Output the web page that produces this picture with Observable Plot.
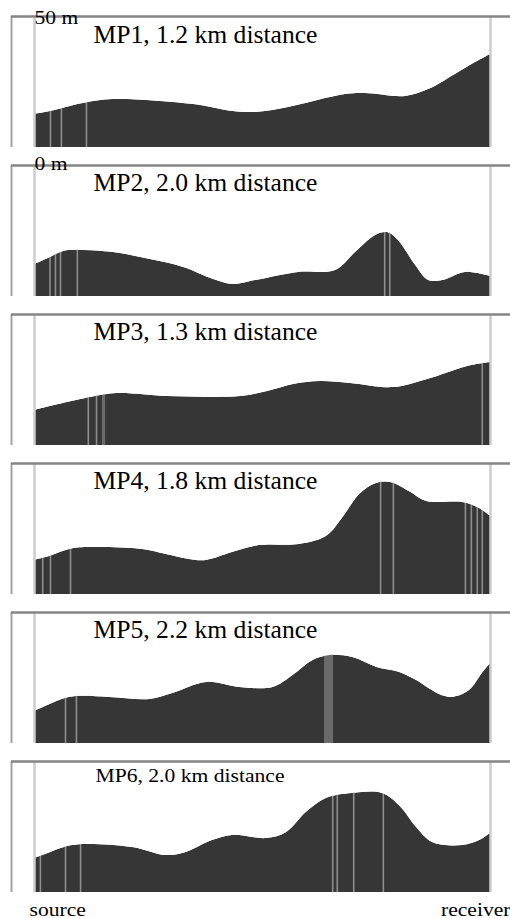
<!DOCTYPE html>
<html>
<head>
<meta charset="utf-8">
<script src="https://cdn.jsdelivr.net/npm/d3@7"></script>
<script src="https://cdn.jsdelivr.net/npm/@observablehq/plot@0.6"></script>
<style>
html, body { margin: 0; padding: 0; background: #fff; }
#chart { width: 510px; height: 918px; }
</style>
</head>
<body>
<div id="chart"></div>
<script>
// Panels and their titles
const panels = ["MP1", "MP2", "MP3", "MP4", "MP5", "MP6"];
const titles = [
  "MP1, 1.2 km distance",
  "MP2, 2.0 km distance",
  "MP3, 1.3 km distance",
  "MP4, 1.8 km distance",
  "MP5, 2.2 km distance",
  "MP6, 2.0 km distance"
];
const yDomain = [0, 50];                // metres
const axisLabels = ["50 m", "0 m"];
const endLabels = ["source", "receiver"];

// Terrain profiles: distance along path (% of path) and elevation (m)
const mp1Dist = [0, 3.5, 10.7, 17.3, 34.9, 43.6, 48.5, 55.7, 68.2, 72.6, 81.4, 86.4, 92.3, 96.7, 100];
const mp1Elev = [12.6, 13.7, 16.8, 18.3, 16.4, 13.7, 13.4, 15.3, 20.2, 20.6, 19.5, 22.1, 27.9, 32.4, 35.5];

const mp2Dist = [0, 3.5, 6.4, 10.1, 17.3, 25.4, 32.7, 39.3, 43.6, 48.5, 57.9, 66.0, 70.4, 74.8, 77.4, 79.8, 83.6, 86.4, 89.5, 94.5, 100];
const mp2Elev = [12.2, 14.9, 17.2, 17.6, 16.8, 14.1, 11.1, 6.5, 4.6, 6.1, 9.2, 9.9, 16.8, 23.3, 24.4, 21.4, 11.8, 6.1, 6.1, 9.2, 7.6];

const mp3Dist = [0, 12.3, 18.2, 29.2, 45.2, 51.1, 56.8, 62.7, 69.3, 78.7, 86.2, 95.0, 100];
const mp3Elev = [13.4, 18.3, 19.8, 18.7, 18.7, 20.6, 23.3, 24.4, 23.7, 22.1, 25.2, 30.2, 31.7];

const mp4Dist = [0, 3.3, 7.7, 11.6, 23.7, 28.9, 34.0, 37.7, 43.4, 49.3, 58.1, 64.0, 67.5, 71.3, 75.0, 78.3, 82.2, 86.0, 93.9, 97.6, 100];
const mp4Elev = [13.0, 14.5, 17.2, 17.9, 17.2, 15.3, 13.4, 13.0, 16.0, 18.7, 19.1, 22.1, 29.0, 38.2, 42.4, 42.7, 39.3, 35.5, 35.1, 32.8, 29.8];

const mp5Dist = [0, 6.1, 9.2, 16.5, 25.3, 30.3, 37.8, 45.0, 52.3, 56.7, 61.1, 64.8, 69.8, 75.1, 80.1, 83.8, 88.8, 91.7, 95.4, 98.2, 100];
const mp5Elev = [12.2, 16.8, 17.9, 17.6, 16.8, 19.1, 23.3, 21.4, 21.4, 26.0, 31.7, 33.6, 32.8, 29.0, 27.1, 24.0, 18.7, 17.6, 20.2, 26.7, 30.5];

const mp6Dist = [0, 1.8, 6.6, 10.5, 21.5, 28.9, 33.3, 39.0, 43.4, 50.9, 55.3, 59.6, 64.0, 69.7, 76.3, 80.0, 83.8, 87.3, 93.9, 97.6, 100];
const mp6Elev = [13.0, 14.1, 17.2, 18.3, 17.2, 14.1, 15.3, 19.8, 21.8, 20.6, 22.9, 30.5, 35.9, 37.8, 37.8, 33.2, 24.8, 19.1, 17.9, 19.8, 22.5];

// Vegetation: single trees (% of path) and wider stands [from, to] (% of path)
const mp1Trees = [3.5, 5.9, 11.4];
const mp2Trees = [3.4, 4.6, 5.7, 9.4, 76.8, 77.9];
const mp3Trees = [11.8, 13.6, 98.2];
const mp4Trees = [1.8, 3.5, 7.9, 75.9, 78.7, 94.5, 95.8, 97.1, 98.2];
const mp5Trees = [6.8, 9.2];
const mp6Trees = [1.3, 6.8, 10.1, 65.4, 66.4, 70.0, 76.5];
const mp3Stands = [[14.9, 15.6]];
const mp5Stands = [[63.6, 65.6]];

// ---- tables built from the arrays ----
const dists = [mp1Dist, mp2Dist, mp3Dist, mp4Dist, mp5Dist, mp6Dist];
const elevs = [mp1Elev, mp2Elev, mp3Elev, mp4Elev, mp5Elev, mp6Elev];
const treeLists = [mp1Trees, mp2Trees, mp3Trees, mp4Trees, mp5Trees, mp6Trees];
const standLists = [[], [], mp3Stands, [], mp5Stands, []];

const terrain = panels.flatMap((p, i) => dists[i].map((d, j) => ({panel: p, d, e: elevs[i][j]})));
const trees = panels.flatMap((p, i) => treeLists[i].map(d => ({panel: p, d})));
const stands = panels.flatMap((p, i) => standLists[i].map(([d1, d2]) => ({panel: p, d1, d2})));
const titleRows = panels.map((p, i) => ({panel: p, title: titles[i]}));
const topLabel = [{panel: panels[0], v: yDomain[1], label: axisLabels[0]}];
const bottomLabel = [{panel: panels[0], v: yDomain[0], label: axisLabels[1]}];
const last = panels[panels.length - 1];

const dark = "#363636";
const curve = "catmull-rom";

const plot = Plot.plot({
  width: 510,
  height: 918,
  marginTop: 16,
  marginBottom: 26,
  marginLeft: 34,
  marginRight: 20,
  x: {domain: [0, 100], axis: null},
  y: {domain: yDomain, axis: null},
  fy: {domain: panels, axis: null, paddingInner: 0.1208, paddingOuter: 0, round: false},
  style: {fontFamily: "'Liberation Serif', 'Times New Roman', serif", background: "white"},
  marks: [
    // terrain
    Plot.areaY(terrain, {x: "d", y: "e", fy: "panel", fill: dark, curve}),
    // vegetation
    Plot.rect(stands, {x1: "d1", x2: "d2", fy: "panel", fill: "#6a6a6a"}),
    Plot.ruleX(trees, {x: "d", fy: "panel", stroke: "#8e8e8e", strokeWidth: 1.6}),
    // sky mask above the terrain
    Plot.areaY(terrain, {x: "d", y1: "e", y2: () => yDomain[1], fy: "panel", fill: "white", curve}),
    // panel frame
    Plot.ruleX([0, 100], {stroke: "#cdcdcd", strokeWidth: 2.5}),
    Plot.ruleX([0], {dx: -23, stroke: "#a2a2a2", strokeWidth: 2}),
    Plot.ruleY([yDomain[1]], {insetLeft: -23, insetRight: -20, stroke: "#858585", strokeWidth: 2.5}),
    // titles
    Plot.text(titleRows.slice(0, 5), {fy: "panel", text: "title", frameAnchor: "top-left", textAnchor: "start",
      lineAnchor: "bottom", dx: 59, dy: 26, fontSize: 25.6, fill: "#000"}),
    Plot.text(titleRows.slice(5), {fy: "panel", text: "title", frameAnchor: "top-left", textAnchor: "start",
      lineAnchor: "bottom", dx: 61, dy: 21, fontSize: 18, fill: "#000"}),
    // elevation labels
    Plot.text(topLabel, {fy: "panel", y: "v", text: "label", frameAnchor: "left", textAnchor: "start",
      lineAnchor: "bottom", dy: 7, fontSize: 18, fill: "#000"}),
    Plot.text(bottomLabel, {fy: "panel", y: "v", text: "label", frameAnchor: "left", textAnchor: "start",
      lineAnchor: "bottom", dy: 22, fontSize: 18, fill: "#000"}),
    // source / receiver
    Plot.text([{panel: last, label: endLabels[0]}], {fy: "panel", text: "label", frameAnchor: "bottom-left",
      textAnchor: "start", lineAnchor: "bottom", dx: -5, dy: 23, fontSize: 18, fill: "#000"}),
    Plot.text([{panel: last, label: endLabels[1]}], {fy: "panel", text: "label", frameAnchor: "bottom-right",
      textAnchor: "end", lineAnchor: "bottom", dx: 20, dy: 23, fontSize: 18, fill: "#000"})
  ]
});

document.getElementById("chart").append(plot);

// the smaller labels are set horizontally widened in the original
const widened = new Set([...axisLabels, ...endLabels, titles[5]]);
plot.querySelectorAll("text").forEach(t => {
  if (widened.has(t.textContent)) {
    const w = t.getComputedTextLength();
    t.setAttribute("textLength", (w * 1.2).toFixed(1));
    t.setAttribute("lengthAdjust", "spacingAndGlyphs");
  }
});
</script>
</body>
</html>
